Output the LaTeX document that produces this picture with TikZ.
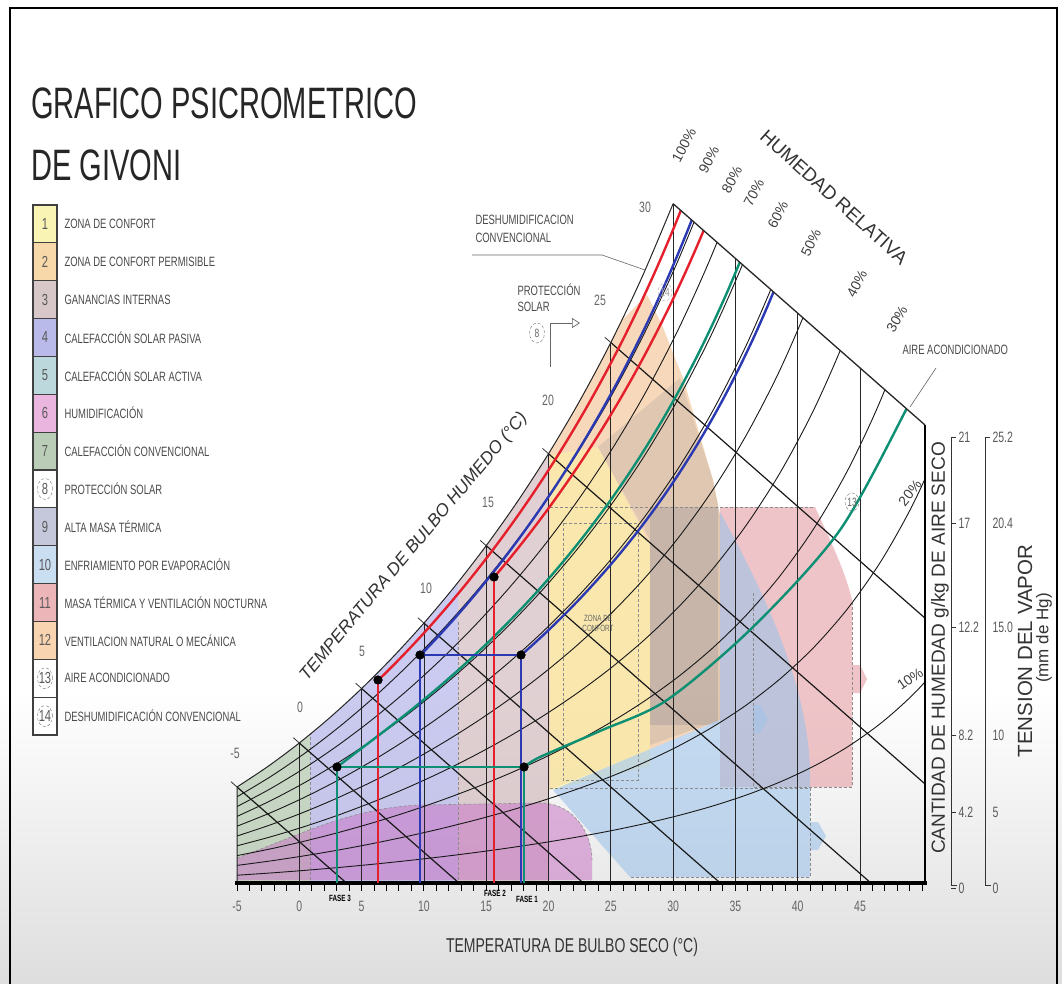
\documentclass[tikz,border=0pt]{standalone}
\usepackage{fontspec}
\setmainfont{Liberation Sans}
\newfontfamily\narrowfont[FakeStretch=0.7]{Liberation Sans}
\newfontfamily\titlefont[FakeStretch=0.66]{Liberation Sans}
\usetikzlibrary{arrows.meta,shapes.geometric}

% legend colours
\definecolor{leg1}{HTML}{F9F3B4}
\definecolor{leg2}{HTML}{F7D9A9}
\definecolor{leg3}{HTML}{D8C7C8}
\definecolor{leg4}{HTML}{B9BAE9}
\definecolor{leg5}{HTML}{BCD8DC}
\definecolor{leg6}{HTML}{EAB6E0}
\definecolor{leg7}{HTML}{BACDB7}
\definecolor{leg9}{HTML}{C5C8DB}
\definecolor{leg10}{HTML}{CADEF2}
\definecolor{leg11}{HTML}{ECB6B9}
\definecolor{leg12}{HTML}{F8D4B0}
% zone colours in the chart
\definecolor{zgreen}{HTML}{A9C3A4}
\definecolor{zlav}{HTML}{A9A8E6}
\definecolor{zmauve}{HTML}{CDB2B6}
\definecolor{zorange}{HTML}{F2BE8C}
\definecolor{zyellow}{HTML}{FBF2A6}
\definecolor{zgray}{HTML}{8E8C95}
\definecolor{zpink}{HTML}{E59EA4}
\definecolor{zblue}{HTML}{9EC3EA}
\definecolor{zmag}{HTML}{C977C6}
% phases
\definecolor{fasered}{HTML}{E51F2B}
\definecolor{faseblue}{HTML}{2B3AB2}
\definecolor{fasegreen}{HTML}{0C8F72}
\definecolor{inkgray}{HTML}{4A4A4A}

\begin{document}
\begin{tikzpicture}[x=1pt,y=-1pt,
  declare function={tx(\t)=299.3+12.46*\t;
    Hs(\t)=exp(4.956+(\t/10)*(0.6926+(\t/10)*(-0.092524+(\t/10)*0.011961)));},
  gridline/.style={black!85,line width=0.8pt},
  rhcurve/.style={black!90,line width=0.9pt},
  wbline/.style={black!90,line width=1.2pt},
  zonefill/.style={fill opacity=0.6},
  zoneedge/.style={black!45,densely dashed,line width=0.6pt},
  phasered/.style={fasered,line width=2.4pt},
  phaseblue/.style={faseblue,line width=2.4pt},
  phasegreen/.style={fasegreen,line width=2.4pt},
  dot/.style={circle,fill=black,inner sep=0pt,minimum size=9pt},
  legbox/.style={draw=black!75,line width=1.2pt,minimum width=24pt,minimum height=37.86pt,
    inner sep=0pt,font=\narrowfont\fontsize{16}{16}\selectfont,text=black!65},
  legtext/.style={anchor=west,font=\narrowfont\fontsize{13.5}{13.5}\selectfont,text=inkgray},
  circnum/.style={ellipse,draw=black!55,densely dashed,minimum width=15pt,minimum height=21pt,
    inner sep=0pt,font=\narrowfont\fontsize{12}{12}\selectfont,text=black!60},
  tempnum/.style={font=\narrowfont\fontsize{15}{15}\selectfont,text=black!60},
  rhlabel/.style={font=\fontsize{14}{14}\selectfont,text=black!75,inner sep=1pt},
  annot/.style={anchor=west,font=\narrowfont\fontsize{13.5}{13.5}\selectfont,text=inkgray},
  fasetag/.style={font=\narrowfont\bfseries\fontsize{9}{9}\selectfont},
  scalenum/.style={anchor=west,font=\narrowfont\fontsize{15}{15}\selectfont,text=black!65}]

\useasboundingbox (0,0) rectangle (1062,983);
\fill[white] (0,0) rectangle (1062,983);
\shade[top color=white,bottom color=black!13] (0,690) rectangle (1062,983);
\draw[line width=1.8pt] (10,8) rectangle (1057,1000);

% title
\node[anchor=base west,inner sep=0pt,font=\titlefont\fontsize{44}{44}\selectfont,text=black!85]
  (title) at (31,118) {GRAFICO PSICROMETRICO};
\node[anchor=base west,inner sep=0pt,font=\titlefont\fontsize{44}{44}\selectfont,text=black!85]
  (subtitle) at (31,180) {DE GIVONI};

% legend
\foreach \n/\col/\txt [count=\i from 0] in {
  1/leg1/ZONA DE CONFORT,
  2/leg2/ZONA DE CONFORT PERMISIBLE,
  3/leg3/GANANCIAS INTERNAS,
  4/leg4/CALEFACCIÓN SOLAR PASIVA,
  5/leg5/CALEFACCIÓN SOLAR ACTIVA,
  6/leg6/HUMIDIFICACIÓN,
  7/leg7/CALEFACCIÓN CONVENCIONAL,
  8/white/PROTECCIÓN SOLAR,
  9/leg9/ALTA MASA TÉRMICA,
  10/leg10/ENFRIAMIENTO POR EVAPORACIÓN,
  11/leg11/MASA TÉRMICA Y VENTILACIÓN NOCTURNA,
  12/leg12/VENTILACION NATURAL O MECÁNICA,
  13/white/AIRE ACONDICIONADO,
  14/white/DESHUMIDIFICACIÓN CONVENCIONAL}{
  \node[legbox,fill=\col] (box\n) at (45,223.9+37.86*\i) {\n};
  \node[legtext] (txt\n) at (61,223.9+37.86*\i) {\txt};
}
\foreach \n in {8,13,14} \node[circnum] at (box\n) {};

% chart body
\begin{scope}
  \clip (237,885) -- plot[smooth,domain=-5:30,samples=15] ({tx(\x)},{885-Hs(\x)})
    -- (925,425) -- (925,885) -- cycle;
  % zones
  \fill[zonefill,zgreen] (237,885) rectangle (310,600);
  \fill[zonefill,zlav] (310,885) rectangle (458,550);
  \fill[zonefill,zmauve] (458,885) rectangle (549,400);
  \fill[zonefill,zorange] (549,790) -- (549,300) -- (612,330) -- (647,295) -- (662,325)
    -- (683,378) -- (713,480) -- (720,515) -- (720,720)
    .. controls (660,745) and (600,770) .. (549,790) -- cycle;
  \fill[zonefill,zyellow] (550,455) -- (598,447) -- (650,545) -- (650,766)
    .. controls (615,775) and (580,783) .. (550,790) -- cycle;
  \fill[zgray,fill opacity=0.22] (598,447) -- (680,378) -- (713,480) -- (720,515)
    -- (720,720) -- (650,745) -- (650,540) -- cycle;
  \fill[zgray,fill opacity=0.3] (650,507) rectangle (718,725);
  \fill[zonefill,zpink] (720,507) -- (815,507) .. controls (830,540) and (845,570) .. (852,600)
    -- (852,665) -- (860,665) -- (867,679) -- (860,693) -- (852,693) -- (852,787)
    -- (720,787) -- cycle;
  \fill[zonefill,zblue] (553,790) -- (630,877) -- (810,877) -- (810,850) -- (818,850)
    -- (826,836) -- (818,822) -- (810,822) -- (810,770)
    .. controls (808,700) and (780,620) .. (720,512) -- (720,720)
    .. controls (660,745) and (600,770) .. (553,790) -- cycle;
  \fill[zblue,fill opacity=0.5] (753,705) -- (760,705) -- (768,719) -- (760,733) -- (753,733) -- cycle;
  \fill[zmag,fill opacity=0.55] (237,858) .. controls (300,835) and (350,808) .. (420,805)
    -- (540,803) .. controls (575,803) and (592,835) .. (592,860) -- (592,880) -- (237,880) -- cycle;
  \draw[zoneedge] (237,858) .. controls (300,835) and (350,808) .. (420,805)
    -- (540,803) .. controls (575,803) and (592,835) .. (592,860);
  \draw[zoneedge] (550,507) -- (815,507);
  \draw[zoneedge] (563,523) rectangle (638,780);
  \draw[zoneedge] (753,593) -- (753,787) -- (852,787) -- (852,600);
  \draw[zoneedge] (550,788) -- (810,788) -- (810,877) -- (630,877);
  \draw[zoneedge] (310,885) -- (310,600);
  \draw[zoneedge] (458,885) -- (458,620);
  % dry bulb verticals
  \foreach \t in {0,5,...,45}
    \draw[gridline] ({tx(\t)},885) -- ({tx(\t)},150);
  % relative humidity curves
  \foreach \f in {0.1,0.2,0.3,0.4,0.5,0.6,0.7,0.8,0.9}
    \draw[rhcurve] plot[smooth,domain=-5:55,samples=23] ({tx(\x)},{885-\f*Hs(\x)});
  % wet bulb lines
  \foreach \t in {-5,0,...,25}
    \draw[wbline] ({tx(\t)},{885-Hs(\t)}) -- ++(400,350.8);
  % phase curves
  \draw[phasered] plot[smooth,domain=6.35:33,samples=20] ({tx(\x)},{885-0.962*Hs(\x)});
  \draw[phasered] plot[smooth,domain=15.66:35,samples=20]
    ({tx(\x)},{885-(0.879-0.0013*(\x-15.66))*Hs(\x)});
  \draw[phaseblue] plot[smooth,domain=9.72:35,samples=20]
    ({tx(\x)},{885-(0.891+0.0009*(\x-9.72))*Hs(\x)});
  \draw[phaseblue] plot[smooth,domain=17.83:40,samples=20] ({tx(\x)},{885-0.591*Hs(\x)});
  \draw[phasegreen] plot[smooth,domain=3.05:38,samples=30]
    ({tx(\x)},{885-(0.71-0.031*exp(-(\x-3.05)/2.5))*Hs(\x)});
  \draw[phasegreen] plot[smooth] coordinates {(524,767) (540,757) (600,731) (667,700)
    (753,627) (840,530) (907,408) (915,390)};
\end{scope}

% chart outline
\draw[black!85,line width=1pt] (237,885) -- plot[smooth,domain=-5:30,samples=15] ({tx(\x)},{885-Hs(\x)});
\draw[black!85,line width=1.3pt] ({tx(30)},{885-Hs(30)}) -- (925,425);
\foreach \t in {-5,0,...,25}
  \draw[black!80,line width=0.8pt] ({tx(\t)},{885-Hs(\t)}) -- ++(-6,-5.3);
\coordinate (base) at (0,883);
\draw[line width=2.5pt] (925,425) -- (925,885);
\draw[line width=3.5pt] (235,883) -- (927,883);
\foreach \t in {-5,...,50}
  \draw[line width=1pt] ({tx(\t)},884) -- ({tx(\t)},891);
\foreach \t in {-5,0,...,45}
  \node[tempnum] at ({tx(\t)},906) {\t};

% phases
\node[dot] (rA) at (378,680) {};
\node[dot] (rB) at (494,577) {};
\node[dot] (b1) at (420,655) {};
\node[dot] (b2) at (521,655) {};
\node[dot] (g1) at (337,767) {};
\node[dot] (g2) at (524,767) {};
\draw[phasered] (rA.center) -- (rA.center |- base);
\draw[phasered] (rB.center) -- (rB.center |- base);
\draw[phaseblue] (b1.center) -- (b2.center);
\draw[phaseblue] (b1.center) -- (b1.center |- base);
\draw[phaseblue] (b2.center) -- (b2.center |- base);
\draw[phasegreen] (g1.center) -- (g2.center);
\draw[phasegreen] (g1.center) -- (g1.center |- base);
\draw[phasegreen] (g2.center) -- (g2.center |- base);
\foreach \d in {rA,rB,b1,b2,g1,g2} \node[dot] at (\d) {};
\node[fasetag] (fase3) at (340,898) {FASE 3};
\node[fasetag] (fase2) at (495,893) {FASE 2};
\node[fasetag] (fase1) at (527,899) {FASE 1};

% wet bulb scale
\foreach \t/\px/\py in {-5/235/753,0/300/707,5/362/651,10/426/588,15/488/502,20/548/400,25/600/300,30/645/207}
  \node[tempnum] at (\px,\py) {\t};
\node[rotate=50,font=\itshape\fontsize{17.5}{17.5}\selectfont,text=black!80,inner sep=1pt] (wbtitle) at (414,547)
  {TEMPERATURA DE BULBO HUMEDO (°C)};

% relative humidity labels
\foreach \p/\px/\py/\a in {100/684/145/62,90/709/160/62,80/732/180/62,70/754/193/62,60/778/215/62,
    50/811/243/64,40/857/284/62,30/897/319/60,20/910/493/52,10/910/679/35}
  \node[rhlabel,rotate=\a] at (\px,\py) {\p\%};
\node[rotate=-42,font=\fontsize{19}{19}\selectfont,text=black!80,inner sep=1pt] (rhtitle) at (834,197) {HUMEDAD RELATIVA};

% annotations
\node[annot] (deshum) at (472,220) {DESHUMIDIFICACION};
\node[annot] (deshum2) at (472,238) {CONVENCIONAL};
\draw[black!60,line width=0.6pt] (472,255) -- (602,255) -- (645,270);
\node[annot] (protec) at (514,290) {PROTECCIÓN};
\node[annot] (protec2) at (514,307) {SOLAR};
\node[circnum,minimum width=15pt,minimum height=20pt] (c8) at (537,333) {8};
\draw[black!60,line width=0.7pt,-{Triangle[open,length=8pt,width=10pt]}] (550,367) |- (580,323);
\node[annot] (aire) at (899,350) {AIRE ACONDICIONADO};
\draw[black!60,line width=0.6pt] (936,368) -- (910,407);
\node[circnum,minimum width=14pt,minimum height=18pt] (c13) at (852,502) {13};
\node[circnum,minimum width=14pt,minimum height=18pt,draw=black!30,text=black!40] (c14) at (665,292) {14};
\node[font=\narrowfont\fontsize{9}{10}\selectfont,text=black!60,align=center] (confort) at (598,623) {ZONA DE\\CONFORT};

% right scales
\draw[black!80,line width=1pt] (956,437) -- (951,437) -- (951,885) -- (957,885);
\foreach \v/\py in {21/437,17/523,12.2/627,8.2/735,4.2/812,0/888} {
  \draw[black!80,line width=1pt] (951,\py) -- (956,\py);
  \node[scalenum] at (955,\py) {\v};
}
\draw[black!80,line width=1pt] (990,437) -- (985,437) -- (985,885) -- (991,885);
\foreach \v/\py in {25.2/437,20.4/523,15.0/627,10/735,5/812,0/888}
  \node[scalenum] at (989,\py) {\v};
\node[rotate=90,font=\fontsize{19}{19}\selectfont,text=black!80] (humtitle) at (940,648)
  {CANTIDAD DE HUMEDAD g/kg DE AIRE SECO};
\node[rotate=90,font=\fontsize{20.5}{20.5}\selectfont,text=black!80] (vaptitle) at (1025,651)
  {TENSION DEL VAPOR};
\node[rotate=90,font=\fontsize{17}{17}\selectfont,text=black!80] (vapunit) at (1044,638)
  {(mm de Hg)};

% dry bulb title
\node[font=\narrowfont\fontsize{20}{20}\selectfont,text=black!80] (dbtitle) at (572,947)
  {TEMPERATURA DE BULBO SECO (°C)};
\end{tikzpicture}
\end{document}
